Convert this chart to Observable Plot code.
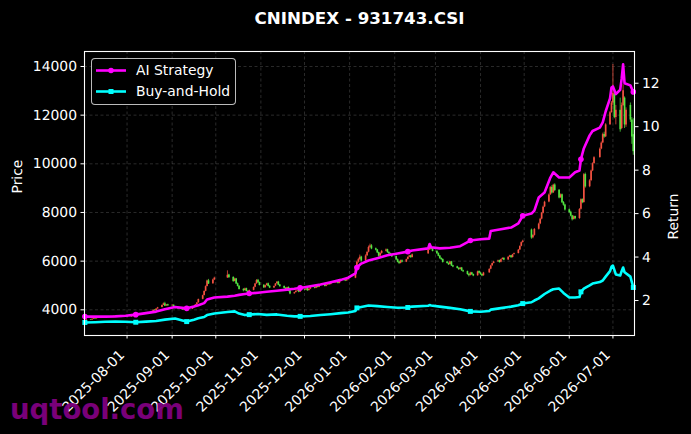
<!DOCTYPE html>
<html>
<head>
<meta charset="utf-8">
<script src="https://cdn.jsdelivr.net/npm/d3@7"></script>
<script src="https://cdn.jsdelivr.net/npm/@observablehq/plot@0.6"></script>
<style>
html,body{margin:0;padding:0;background:#000;}
#fig{position:relative;width:691px;height:434px;background:#000;overflow:hidden;font-family:"DejaVu Sans",sans-serif;color:#fff;}
#title{height:36px;line-height:36px;text-align:center;padding-left:28px;font-weight:bold;font-size:16.7px;white-space:nowrap;}
#legend{position:absolute;left:91px;top:58px;width:143px;height:45px;border:1px solid rgba(220,220,220,0.85);border-radius:4px;background:#000;}
#legend svg{position:absolute;left:0;top:0;}
#wm{position:absolute;left:10px;top:396px;font-size:27.5px;line-height:27px;font-weight:bold;color:#800080;opacity:0.95;white-space:nowrap;}
#chart svg text{text-rendering:geometricPrecision;}
</style>
</head>
<body>
<div id="fig">
  <div id="title">CNINDEX - 931743.CSI</div>
  <div id="chart"></div>
  <div id="legend"></div>
  <div id="wm">uqtool.com</div>
</div>
<script>
// ---------- trading calendar ----------
const months = ["2025-07","2025-08","2025-09","2025-10","2025-11","2025-12","2026-01","2026-02","2026-03","2026-04","2026-05","2026-06","2026-07"];
const tradingDays = [
  [3,4,7,8,9,10,11,14,15,16,17,18,21,22,23,24,25,28,29,30,31],
  [1,4,5,6,7,8,11,12,13,14,15,18,19,20,21,22,25,26,27,28,29],
  [1,2,3,4,5,8,9,10,11,12,15,16,17,18,19,22,23,24,25,26,29,30],
  [9,10,13,14,15,16,17,20,21,22,23,24,27,28,29,30,31],
  [3,4,5,6,7,10,11,12,13,14,17,18,19,20,21,24,25,26,27,28],
  [1,2,3,4,5,8,9,10,11,12,15,16,17,18,19,22,23,24,25,26,29,30,31],
  [5,6,7,8,9,12,13,14,15,16,19,20,21,22,23,26,27,28,29,30],
  [2,3,4,5,6,9,10,11,12,13,24,25,26,27],
  [2,3,4,5,6,9,10,11,12,13,16,17,18,19,20,23,24,25,26,27,30,31],
  [1,2,3,7,8,9,10,13,14,15,16,17,20,21,22,23,24,27,28,29,30],
  [6,7,8,11,12,13,14,15,18,19,20,21,22,25,26,27,28,29],
  [1,2,3,4,5,8,9,10,11,12,15,16,17,18,22,23,24,25,26,29,30],
  [1,2,3,6,7,8,9,10,13,14,15]
];

// ---------- candles (price) ----------
const opens = [
  3540,3565,3595,3580,3615,3645,3630,3665,3655,3685,3705,3675,3695,3725,3710,3745,3735,3705,3695,3725,3750,
  3735,3705,3725,3765,3750,3785,3775,3805,3835,3815,3855,3885,3925,3990,3965,4035,4090,4190,4250,4160,4210,
  4165,4190,4125,4065,4095,4035,3995,4045,3985,3965,4025,4085,4145,4205,4290,4430,4590,4760,4960,5190,5070,5230,
  5310,5430,5330,5170,5270,5070,4970,4840,4790,4870,4760,4710,4800,4930,5070,5210,5120,
  5010,4910,5000,5070,4970,4900,4970,5070,5140,5020,4960,4890,4830,4920,4770,4660,4710,4770,4800,4730,
  4820,4810,4870,4790,4850,4920,4890,4970,4930,5000,5040,4970,5020,5080,5040,5100,5120,5140,5090,5170,5220,5190,5240,
  5300,5670,5960,6070,6170,6010,6220,6370,6570,6630,6510,6460,6350,6210,6320,6410,6470,6360,6310,6250,
  6190,6060,5960,5910,6020,5960,6070,6160,6220,6150,6300,6460,6570,6500,
  6410,6310,6210,6110,6070,5960,5910,5860,5970,5810,5770,5710,5660,5720,5610,5570,5460,5410,5520,5450,5400,5570,
  5510,5450,5400,5520,5670,5810,5910,5970,6020,5950,6070,6120,6050,6170,6220,6150,6270,6310,6460,6610,6770,
  7280,6960,7060,7310,7530,7730,7970,8230,8430,8730,9030,8810,9130,8910,8610,8730,8410,8310,
  8110,8010,7860,7710,7830,7750,8130,8530,8410,9560,9060,9310,9710,10010,10260,10610,10860,11210,11110,11610,12110,
  12500,12850,11900,12200,11450,12400,12700,11600,12400,11800,11200
];
const highs = [
  3575,3600,3605,3620,3650,3655,3670,3675,3690,3715,3715,3700,3735,3735,3755,3755,3740,3715,3730,3760,3760,
  3745,3730,3775,3780,3790,3795,3815,3845,3850,3860,3895,3935,3995,4010,4045,4100,4200,4280,4310,4220,4230,
  4210,4200,4140,4110,4110,4050,4060,4060,4000,4040,4100,4160,4220,4300,4440,4600,4780,4980,5220,5250,5260,5340,
  5600,5460,5360,5300,5290,5100,4990,4870,4890,4890,4790,4810,4940,5080,5240,5250,5140,
  5030,5010,5090,5100,4990,4980,5080,5160,5170,5040,4980,4910,4930,4940,4790,4720,4780,4810,4820,4830,
  4840,4880,4880,4860,4930,4930,4980,4980,5010,5050,5050,5030,5090,5090,5110,5130,5150,5150,5180,5230,5230,5250,5290,
  5700,6000,6120,6250,6200,6260,6400,6620,6700,6680,6540,6480,6370,6340,6440,6500,6490,6390,6330,6280,
  6210,6090,5990,6040,6050,6080,6180,6240,6240,6290,6480,6650,6600,6520,
  6420,6340,6230,6140,6090,5980,5930,5990,5990,5830,5790,5730,5740,5740,5630,5590,5480,5540,5540,5470,5590,5600,
  5530,5470,5540,5690,5830,5920,5990,6040,6040,6080,6140,6130,6180,6240,6230,6280,6330,6480,6630,6790,6860,
  7320,7090,7340,7560,7760,8000,8260,8460,8760,9060,9100,9160,9180,8940,8760,8760,8450,8340,
  8150,8050,7880,7860,7850,8160,8560,8560,9600,9620,9350,9740,10040,10290,10650,10900,11260,11300,11650,12150,12560,
  14080,12950,12400,12700,12500,13250,12750,12300,12500,11900,11850
];
const lows = [
  3480,3550,3565,3570,3605,3615,3620,3640,3645,3675,3660,3665,3690,3695,3700,3720,3690,3680,3685,3715,3720,
  3690,3695,3715,3735,3740,3760,3765,3795,3800,3805,3845,3875,3915,3945,3955,4025,4080,4175,4140,4140,4150,
  4150,4110,4040,4050,4020,3970,3985,3970,3940,3955,4010,4070,4130,4190,4270,4410,4570,4740,4940,5040,5050,5200,
  5290,5300,5130,5150,5040,4940,4810,4740,4770,4730,4660,4690,4780,4910,5050,5090,4980,
  4880,4890,4980,4940,4870,4880,4950,5050,4990,4930,4860,4800,4810,4740,4620,4640,4690,4750,4700,4710,
  4780,4790,4760,4770,4830,4860,4870,4900,4910,4980,4940,4950,5000,5010,5020,5080,5100,5060,5070,5150,5160,5170,5220,
  5280,5620,5920,6030,5960,5980,6190,6340,6530,6470,6420,6310,6160,6190,6290,6380,6320,6270,6210,6150,
  6020,5930,5860,5890,5930,5940,6050,6140,6120,6130,6280,6440,6470,6380,
  6280,6180,6080,6030,5920,5880,5820,5840,5780,5730,5680,5620,5640,5580,5530,5420,5350,5390,5420,5360,5380,5480,
  5420,5360,5380,5500,5650,5790,5890,5950,5920,5930,6050,6020,6030,6150,6120,6130,6250,6300,6440,6590,6740,
  6900,6920,7030,7280,7500,7700,7940,8200,8400,8700,8760,8780,8860,8560,8580,8370,8260,8060,
  7960,7820,7650,7690,7700,7720,8100,8360,8380,9000,9020,9270,9680,9980,10230,10580,10830,11050,11080,11580,12080,
  12400,11850,11600,11300,11400,12350,11450,11500,11700,10800,10350
];
const closes = [
  3560,3590,3575,3610,3640,3625,3660,3650,3680,3700,3670,3690,3720,3705,3740,3730,3700,3690,3720,3745,3730,
  3700,3720,3760,3745,3780,3770,3800,3830,3810,3850,3880,3920,3980,3960,4030,4080,4180,4240,4150,4200,4160,
  4180,4120,4060,4090,4030,3990,4040,3980,3960,4020,4080,4140,4200,4280,4420,4580,4750,4950,5180,5060,5220,5300,
  5420,5320,5160,5260,5060,4960,4830,4780,4860,4750,4700,4790,4920,5060,5200,5110,5000,
  4900,4990,5060,4960,4890,4960,5060,5130,5010,4950,4880,4820,4910,4760,4650,4700,4760,4790,4720,4810,
  4800,4860,4780,4840,4910,4880,4960,4920,4990,5030,4960,5010,5070,5030,5090,5110,5130,5080,5160,5210,5180,5230,5260,
  5650,5950,6060,6160,6000,6210,6360,6560,6620,6500,6450,6340,6200,6310,6400,6460,6350,6300,6240,6180,
  6050,5950,5900,6010,5950,6060,6150,6210,6140,6260,6450,6560,6490,6400,
  6300,6200,6100,6060,5950,5900,5850,5960,5800,5760,5700,5650,5710,5600,5560,5450,5400,5510,5440,5390,5560,5500,
  5440,5390,5510,5660,5800,5900,5960,6010,5940,6060,6110,6040,6160,6210,6140,6260,6300,6450,6600,6760,6820,
  6950,7050,7300,7520,7720,7960,8220,8420,8720,9020,8800,9120,8900,8600,8720,8400,8300,8100,
  8000,7850,7700,7820,7740,8120,8520,8400,9550,9050,9300,9700,10000,10250,10600,10850,11200,11100,11600,12100,12500,
  12900,11900,12200,11400,12400,13000,11600,12200,11800,11100,10500
];

// ---------- return lines ----------
const lineDates = [
  "2025-07-03","2025-07-10","2025-07-17","2025-07-24","2025-07-31","2025-08-07","2025-08-14","2025-08-21","2025-08-27",
  "2025-09-03","2025-09-08","2025-09-11","2025-09-16","2025-09-19","2025-09-23","2025-09-25","2025-09-30",
  "2025-10-09","2025-10-14","2025-10-17","2025-10-21","2025-10-24","2025-10-30",
  "2025-11-05","2025-11-12","2025-11-19","2025-11-24","2025-11-28",
  "2025-12-05","2025-12-12","2025-12-19","2025-12-26","2025-12-31",
  "2026-01-05","2026-01-06","2026-01-09","2026-01-14","2026-01-20","2026-01-27",
  "2026-02-03","2026-02-10","2026-02-13","2026-02-24","2026-02-25","2026-02-26",
  "2026-03-04","2026-03-11","2026-03-18","2026-03-25",
  "2026-04-01","2026-04-07","2026-04-08","2026-04-15","2026-04-22","2026-04-27","2026-04-30",
  "2026-05-06","2026-05-08","2026-05-11","2026-05-15","2026-05-19","2026-05-21","2026-05-25","2026-05-28",
  "2026-06-01","2026-06-05","2026-06-08","2026-06-09","2026-06-11","2026-06-15","2026-06-17","2026-06-22","2026-06-24","2026-06-26","2026-06-29","2026-06-30",
  "2026-07-01","2026-07-03","2026-07-06","2026-07-07","2026-07-08","2026-07-09","2026-07-13","2026-07-15"
];
const aiReturn = [
  1.26,1.26,1.26,1.27,1.30,1.35,1.42,1.49,1.60,
  1.70,1.66,1.64,1.72,1.78,1.88,2.05,2.14,
  2.18,2.22,2.26,2.30,2.32,2.36,
  2.40,2.45,2.50,2.54,2.58,
  2.66,2.74,2.84,2.95,3.05,
  3.25,3.52,3.70,3.84,3.95,4.08,
  4.16,4.25,4.30,4.40,4.60,4.45,
  4.40,4.43,4.50,4.76,
  4.82,4.85,5.20,5.28,5.36,5.55,5.90,
  6.00,6.14,6.74,6.97,7.66,7.90,7.66,7.66,
  7.66,7.90,7.98,8.50,9.00,9.60,9.80,9.96,10.20,10.70,11.30,11.80,
  11.85,11.50,11.70,12.20,12.87,12.00,11.90,11.60
];
const bhReturn = [
  0.99,1.00,1.02,1.03,1.02,1.00,1.03,1.06,1.12,
  1.17,1.08,1.03,1.12,1.18,1.24,1.33,1.40,
  1.47,1.50,1.40,1.33,1.35,1.38,
  1.34,1.36,1.30,1.27,1.27,
  1.29,1.33,1.37,1.42,1.45,
  1.52,1.66,1.70,1.77,1.74,1.70,
  1.67,1.68,1.72,1.76,1.79,1.77,
  1.72,1.66,1.60,1.50,
  1.48,1.52,1.58,1.65,1.72,1.78,1.86,
  1.92,2.00,2.10,2.30,2.46,2.52,2.55,2.35,
  2.14,2.14,2.16,2.40,2.55,2.70,2.78,2.85,2.92,3.10,3.35,3.55,
  3.61,3.20,3.15,3.35,3.52,3.30,3.10,2.60
];
const markerDates = ["2025-07-03","2025-08-07","2025-09-11","2025-10-24","2025-11-28","2026-01-06","2026-02-10","2026-03-25","2026-04-30","2026-06-09","2026-07-15"];

// ---------- axes ----------
const priceTicks = [4000, 6000, 8000, 10000, 12000, 14000];
const returnTicks = [2, 4, 6, 8, 10, 12];
const monthTicks = ["2025-08-01","2025-09-01","2025-10-01","2025-11-01","2025-12-01","2026-01-01","2026-02-01","2026-03-01","2026-04-01","2026-05-01","2026-06-01","2026-07-01"];

const parse = s => new Date(s + "T00:00:00Z");
const dates = months.flatMap((m, i) => tradingDays[i].map(d => parse(`${m}-${String(d).padStart(2, "0")}`)));
const candles = dates.map((date, i) => ({date, open: opens[i], high: highs[i], low: lows[i], close: closes[i]}));

const priceDomain = [2944, 14616];
const returnDomain = [0.39, 13.46];
const toPrice = d3.scaleLinear().domain(returnDomain).range(priceDomain);

const ai = lineDates.map((s, i) => ({date: parse(s), key: s, v: aiReturn[i]}));
const bh = lineDates.map((s, i) => ({date: parse(s), key: s, v: bhReturn[i]}));
const isMarker = d => markerDates.includes(d.key);

const UP = "#ff5544", DOWN = "#55ee44";
const colorOf = d => d.close >= d.open ? UP : DOWN;
const grid = {stroke: "#777", strokeOpacity: 0.6, strokeWidth: 0.6, strokeDasharray: "3,2.5"};

const chart = Plot.plot({
  width: 691,
  height: 398,
  marginTop: 15,
  marginBottom: 99,
  marginLeft: 84,
  marginRight: 57,
  style: {background: "#000", color: "#fff", fontFamily: "DejaVu Sans, sans-serif", fontSize: "13.9px"},
  x: {type: "utc", domain: [new Date(Date.UTC(2025, 6, 2, 18)), new Date(Date.UTC(2026, 6, 15, 20))]},
  y: {domain: priceDomain},
  marks: [
    Plot.gridX(monthTicks.map(parse), grid),
    Plot.gridY(priceTicks, grid),
    Plot.ruleX(candles, {x: "date", y1: "low", y2: "high", stroke: colorOf, strokeWidth: 0.8, strokeOpacity: 0.9}),
    Plot.ruleX(candles, {x: "date", y1: "open", y2: "close", stroke: colorOf, strokeWidth: 1.7, strokeOpacity: 0.9}),
    Plot.line(ai, {x: "date", y: d => toPrice(d.v), stroke: "#ff00ff", strokeWidth: 2.6}),
    Plot.line(bh, {x: "date", y: d => toPrice(d.v), stroke: "#00ffff", strokeWidth: 2.6}),
    Plot.dot(ai.filter(isMarker), {x: "date", y: d => toPrice(d.v), r: 2.8, fill: "#ff00ff", symbol: "circle"}),
    Plot.dot(bh.filter(isMarker), {x: "date", y: d => toPrice(d.v), r: 2.8, fill: "#00ffff", symbol: "square"}),
    Plot.frame({stroke: "#fff", strokeWidth: 1.1}),
    Plot.axisX(monthTicks.map(parse), {tickFormat: () => "", tickSize: 3.5, label: null, stroke: "#fff"}),
    Plot.text(monthTicks.map(parse), {x: d => d, text: d3.utcFormat("%Y-%m-%d"), frameAnchor: "bottom", rotate: -45, textAnchor: "end", lineAnchor: "middle", dx: -5, dy: 17, fill: "#fff", stroke: "none", fontSize: 13.9}),
    Plot.axisY(priceTicks, {anchor: "left", tickSize: 3.5, tickPadding: 4, tickFormat: d => String(d), label: null, stroke: "#fff", fill: "#fff"}),
    Plot.axisY(returnTicks.map(toPrice), {anchor: "right", tickSize: 3.5, tickPadding: 4, tickFormat: d => String(Math.round(toPrice.invert(d))), label: null, stroke: "#fff", fill: "#fff"}),
    Plot.text(["Price"], {text: d => d, frameAnchor: "left", dx: -67, rotate: -90, fill: "#fff", fontSize: 13.9}),
    Plot.text(["Return"], {text: d => d, frameAnchor: "right", dx: 39, rotate: -90, fill: "#fff", fontSize: 13.9})
  ]
});
document.getElementById("chart").appendChild(chart);

// ---------- legend ----------
const legendItems = [
  {label: "AI Strategy", color: "#ff00ff", symbol: "circle"},
  {label: "Buy-and-Hold", color: "#00ffff", symbol: "square"}
];
const lg = d3.select("#legend").append("svg").attr("width", 143).attr("height", 45);
legendItems.forEach((it, i) => {
  const y = 11.5 + i * 21;
  lg.append("line").attr("x1", 4).attr("x2", 34).attr("y1", y).attr("y2", y).attr("stroke", it.color).attr("stroke-width", 2.6);
  if (it.symbol === "circle") lg.append("circle").attr("cx", 19).attr("cy", y).attr("r", 2.8).attr("fill", it.color);
  else lg.append("rect").attr("x", 16.5).attr("y", y - 2.5).attr("width", 5).attr("height", 5).attr("fill", it.color);
  lg.append("text").attr("x", 44).attr("y", y).attr("dy", "0.35em").attr("fill", "#fff")
    .style("font-family", "DejaVu Sans, sans-serif").style("font-size", "13.9px").text(it.label);
});
</script>
</body>
</html>
